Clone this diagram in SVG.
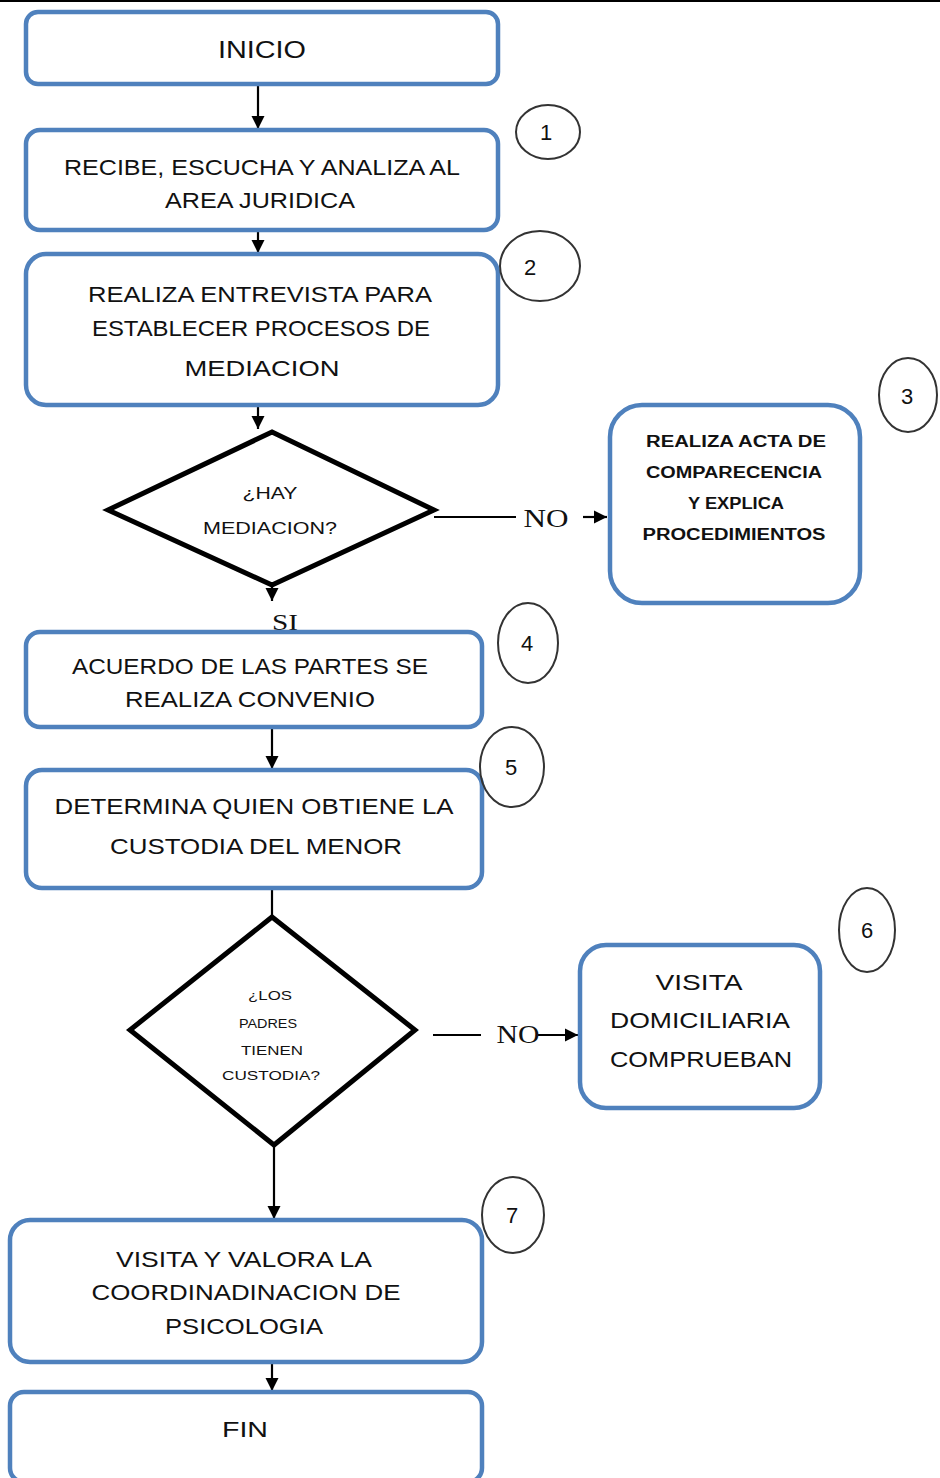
<svg xmlns="http://www.w3.org/2000/svg" width="940" height="1478" viewBox="0 0 940 1478">
  <style>
    .box { fill: #ffffff; stroke: #4F81BD; stroke-width: 4.5; }
    .dec { fill: #ffffff; stroke: #000000; stroke-width: 5; stroke-linejoin: miter; }
    .num { fill: none; stroke: #333333; stroke-width: 2; }
    .wire { fill: none; stroke: #000000; stroke-width: 2.2; }
    .t { font-family: "Liberation Sans", Arial, sans-serif; fill: #111111; text-anchor: middle; }
    .tb { font-family: "Liberation Sans", Arial, sans-serif; font-weight: bold; fill: #111111; text-anchor: middle; }
    .s { font-family: "Liberation Serif", "Times New Roman", serif; fill: #111111; text-anchor: middle; }
    .n { font-family: "Liberation Sans", Arial, sans-serif; fill: #111111; text-anchor: middle; font-size: 22px; }
  </style>
  <defs>
    <marker id="head" viewBox="0 0 10 10" refX="10" refY="5" markerWidth="6" markerHeight="6" markerUnits="strokeWidth" orient="auto">
      <path d="M0,0 L10,5 L0,10 z" fill="#000000"/>
    </marker>
  </defs>

  <rect width="940" height="1478" fill="#ffffff"/>
  <line x1="0" y1="1" x2="940" y2="1" stroke="#000000" stroke-width="2"/>

  <!-- connectors -->
  <g id="connectors">
    <line class="wire" x1="258" y1="84" x2="258" y2="129" marker-end="url(#head)"/>
    <line class="wire" x1="258" y1="230" x2="258" y2="253" marker-end="url(#head)"/>
    <line class="wire" x1="258" y1="405" x2="258" y2="429" marker-end="url(#head)"/>
    <line class="wire" x1="434" y1="517" x2="516" y2="517"/>
    <line class="wire" x1="583" y1="517" x2="607" y2="517" marker-end="url(#head)"/>
    <line class="wire" x1="272" y1="585" x2="272" y2="601" marker-end="url(#head)"/>
    <line class="wire" x1="272" y1="727" x2="272" y2="769" marker-end="url(#head)"/>
    <line class="wire" x1="272" y1="888" x2="272" y2="918"/>
    <line class="wire" x1="433" y1="1035" x2="481" y2="1035"/>
    <line class="wire" x1="538" y1="1035" x2="578" y2="1035" marker-end="url(#head)"/>
    <line class="wire" x1="274" y1="1145" x2="274" y2="1219" marker-end="url(#head)"/>
    <line class="wire" x1="272" y1="1362" x2="272" y2="1391" marker-end="url(#head)"/>
    <text class="s" x="546" y="527" font-size="26" textLength="45" lengthAdjust="spacingAndGlyphs">NO</text>
    <text class="s" x="285" y="630" font-size="24" textLength="26" lengthAdjust="spacingAndGlyphs">SI</text>
    <text class="s" x="518" y="1043" font-size="26" textLength="43" lengthAdjust="spacingAndGlyphs">NO</text>
  </g>

  <g id="inicio">
    <rect class="box" x="26" y="12" width="472" height="72" rx="12"/>
    <text class="t" x="262" y="58" font-size="24" textLength="88" lengthAdjust="spacingAndGlyphs">INICIO</text>
  </g>

  <g id="paso1">
    <rect class="box" x="26" y="130" width="472" height="100" rx="14"/>
    <text class="t" x="262" y="175" font-size="22" textLength="396" lengthAdjust="spacingAndGlyphs">RECIBE, ESCUCHA Y ANALIZA AL</text>
    <text class="t" x="260" y="208" font-size="22" textLength="190" lengthAdjust="spacingAndGlyphs">AREA JURIDICA</text>
    <ellipse class="num" cx="548" cy="132" rx="32" ry="27"/>
    <text class="n" x="546" y="140">1</text>
  </g>

  <g id="paso2">
    <rect class="box" x="26" y="254" width="472" height="151" rx="20"/>
    <text class="t" x="260" y="302" font-size="22" textLength="344" lengthAdjust="spacingAndGlyphs">REALIZA ENTREVISTA PARA</text>
    <text class="t" x="261" y="336" font-size="22" textLength="338" lengthAdjust="spacingAndGlyphs">ESTABLECER PROCESOS DE</text>
    <text class="t" x="262" y="376" font-size="22" textLength="155" lengthAdjust="spacingAndGlyphs">MEDIACION</text>
    <ellipse class="num" cx="540" cy="266" rx="40" ry="35"/>
    <text class="n" x="530" y="275">2</text>
  </g>

  <g id="decision1">
    <polygon class="dec" points="272,432 434,510 272,585 108,510"/>
    <text class="t" x="270" y="499" font-size="16" textLength="55" lengthAdjust="spacingAndGlyphs">¿HAY</text>
    <text class="t" x="270" y="534" font-size="17" textLength="134" lengthAdjust="spacingAndGlyphs">MEDIACION?</text>
  </g>

  <g id="paso3">
    <rect class="box" x="610" y="405" width="250" height="198" rx="32"/>
    <text class="tb" x="736" y="447" font-size="16" textLength="180" lengthAdjust="spacingAndGlyphs">REALIZA ACTA DE</text>
    <text class="tb" x="734" y="478" font-size="16" textLength="176" lengthAdjust="spacingAndGlyphs">COMPARECENCIA</text>
    <text class="tb" x="736" y="509" font-size="16" textLength="96" lengthAdjust="spacingAndGlyphs">Y EXPLICA</text>
    <text class="tb" x="734" y="540" font-size="16" textLength="183" lengthAdjust="spacingAndGlyphs">PROCEDIMIENTOS</text>
    <ellipse class="num" cx="908" cy="395" rx="29" ry="37"/>
    <text class="n" x="907" y="404">3</text>
  </g>

  <g id="paso4">
    <rect class="box" x="26" y="632" width="456" height="95" rx="14"/>
    <text class="t" x="250" y="674" font-size="22" textLength="356" lengthAdjust="spacingAndGlyphs">ACUERDO DE LAS PARTES SE</text>
    <text class="t" x="250" y="707" font-size="22" textLength="250" lengthAdjust="spacingAndGlyphs">REALIZA CONVENIO</text>
    <ellipse class="num" cx="528" cy="643" rx="30" ry="40"/>
    <text class="n" x="527" y="651">4</text>
  </g>

  <g id="paso5">
    <rect class="box" x="26" y="770" width="456" height="118" rx="16"/>
    <text class="t" x="254" y="814" font-size="22" textLength="399" lengthAdjust="spacingAndGlyphs">DETERMINA QUIEN OBTIENE LA</text>
    <text class="t" x="256" y="854" font-size="22" textLength="292" lengthAdjust="spacingAndGlyphs">CUSTODIA DEL MENOR</text>
    <ellipse class="num" cx="512" cy="767" rx="32" ry="40"/>
    <text class="n" x="511" y="775">5</text>
  </g>

  <g id="decision2">
    <polygon class="dec" points="272,917 415,1030 274,1145 130,1030"/>
    <text class="t" x="270" y="1000" font-size="13" textLength="44" lengthAdjust="spacingAndGlyphs">¿LOS</text>
    <text class="t" x="268" y="1028" font-size="13" textLength="58" lengthAdjust="spacingAndGlyphs">PADRES</text>
    <text class="t" x="272" y="1055" font-size="13" textLength="62" lengthAdjust="spacingAndGlyphs">TIENEN</text>
    <text class="t" x="271" y="1080" font-size="13" textLength="98" lengthAdjust="spacingAndGlyphs">CUSTODIA?</text>
  </g>

  <g id="paso6">
    <rect class="box" x="580" y="945" width="240" height="163" rx="26"/>
    <text class="t" x="699" y="990" font-size="22" textLength="87" lengthAdjust="spacingAndGlyphs">VISITA</text>
    <text class="t" x="700" y="1028" font-size="22" textLength="180" lengthAdjust="spacingAndGlyphs">DOMICILIARIA</text>
    <text class="t" x="701" y="1067" font-size="22" textLength="182" lengthAdjust="spacingAndGlyphs">COMPRUEBAN</text>
    <ellipse class="num" cx="867" cy="930" rx="28" ry="42"/>
    <text class="n" x="867" y="938">6</text>
  </g>

  <g id="paso7">
    <rect class="box" x="10" y="1220" width="472" height="142" rx="20"/>
    <text class="t" x="244" y="1267" font-size="22" textLength="256" lengthAdjust="spacingAndGlyphs">VISITA Y VALORA LA</text>
    <text class="t" x="246" y="1300" font-size="22" textLength="309" lengthAdjust="spacingAndGlyphs">COORDINADINACION DE</text>
    <text class="t" x="244" y="1334" font-size="22" textLength="158" lengthAdjust="spacingAndGlyphs">PSICOLOGIA</text>
    <ellipse class="num" cx="513" cy="1215" rx="31" ry="38"/>
    <text class="n" x="512" y="1223">7</text>
  </g>

  <g id="fin">
    <rect class="box" x="10" y="1392" width="472" height="90" rx="14"/>
    <text class="t" x="245" y="1437" font-size="22" textLength="46" lengthAdjust="spacingAndGlyphs">FIN</text>
  </g>
</svg>
